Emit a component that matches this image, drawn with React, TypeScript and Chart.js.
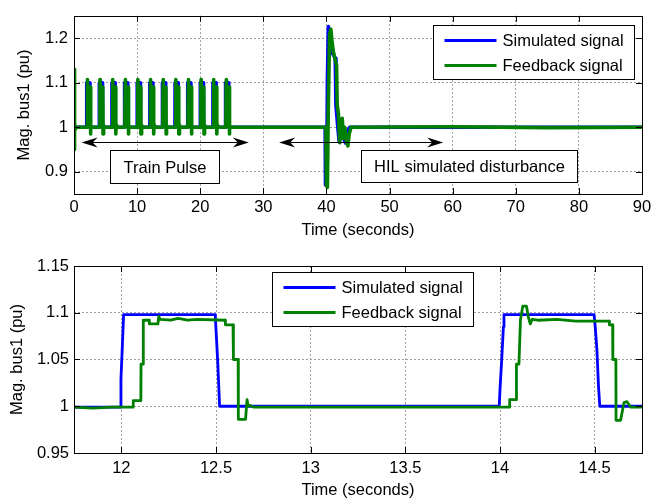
import React, { useEffect, useRef } from "react";
import { Chart, registerables } from "chart.js";
Chart.register(...registerables);

const FONT_FAMILY = "'Liberation Sans', Arial, Helvetica, sans-serif";
const FONT_SIZE = 16.5;
const BLUE = "#0000ff";
const GREEN = "#008000";

// ---------- Top plot data (time s, magnitude pu) ----------
const xTicksTop = [0, 10, 20, 30, 40, 50, 60, 70, 80, 90];
const xLabelsTop = ["0", "10", "20", "30", "40", "50", "60", "70", "80", "90"];
const yTicksTop = [0.9, 1.0, 1.1, 1.2];
const yLabelsTop = ["0.9", "1", "1.1", "1.2"];

const simulatedTop: number[][] = [
  [0, 1], [2, 1], [2.02, 1.1], [2.5, 1.1], [2.52, 1],
  [4, 1], [4.02, 1.1], [4.5, 1.1], [4.52, 1],
  [6, 1], [6.02, 1.1], [6.5, 1.1], [6.52, 1],
  [8, 1], [8.02, 1.1], [8.5, 1.1], [8.52, 1],
  [10, 1], [10.02, 1.1], [10.5, 1.1], [10.52, 1],
  [12, 1], [12.02, 1.1], [12.5, 1.1], [12.52, 1],
  [14, 1], [14.02, 1.1], [14.5, 1.1], [14.52, 1],
  [16, 1], [16.02, 1.1], [16.5, 1.1], [16.52, 1],
  [18, 1], [18.02, 1.1], [18.5, 1.1], [18.52, 1],
  [20, 1], [20.02, 1.1], [20.5, 1.1], [20.52, 1],
  [22, 1], [22.02, 1.1], [22.5, 1.1], [22.52, 1],
  [24, 1], [24.02, 1.1], [24.5, 1.1], [24.52, 1],
  [39.8, 1], [39.85, 0.87], [40.05, 0.87], [40.15, 1.1], [40.3, 1.226], [40.5, 1.215],
  [40.8, 1.17], [41.2, 1.16], [41.4, 1.155], [41.5, 1.05], [41.8, 1.0], [42.0, 0.97],
  [42.3, 1.01], [42.6, 0.98], [43.0, 0.965], [43.3, 0.99], [43.7, 1.0], [90, 1],
];

const feedbackTop: number[][] = [
  [0, 1.13], [0.05, 0.95], [0.12, 1.01], [0.2, 0.995], [0.4, 1],
  [2.06, 1], [2.11, 1.093], [2.13, 1.107], [2.16, 1.09], [2.56, 1.09], [2.6, 0.985], [2.65, 0.985], [2.68, 1.005], [2.75, 1],
  [4.06, 1], [4.11, 1.093], [4.13, 1.107], [4.16, 1.09], [4.56, 1.09], [4.6, 0.985], [4.65, 0.985], [4.68, 1.005], [4.75, 1],
  [6.06, 1], [6.11, 1.093], [6.13, 1.107], [6.16, 1.09], [6.56, 1.09], [6.6, 0.985], [6.65, 0.985], [6.68, 1.005], [6.75, 1],
  [8.06, 1], [8.11, 1.093], [8.13, 1.107], [8.16, 1.09], [8.56, 1.09], [8.6, 0.985], [8.65, 0.985], [8.68, 1.005], [8.75, 1],
  [10.06, 1], [10.11, 1.093], [10.13, 1.107], [10.16, 1.09], [10.56, 1.09], [10.6, 0.985], [10.65, 0.985], [10.68, 1.005], [10.75, 1],
  [12.06, 1], [12.11, 1.093], [12.13, 1.107], [12.16, 1.09], [12.56, 1.09], [12.6, 0.985], [12.65, 0.985], [12.68, 1.005], [12.75, 1],
  [14.06, 1], [14.11, 1.093], [14.13, 1.107], [14.16, 1.09], [14.56, 1.09], [14.6, 0.985], [14.65, 0.985], [14.68, 1.005], [14.75, 1],
  [16.06, 1], [16.11, 1.093], [16.13, 1.107], [16.16, 1.09], [16.56, 1.09], [16.6, 0.985], [16.65, 0.985], [16.68, 1.005], [16.75, 1],
  [18.06, 1], [18.11, 1.093], [18.13, 1.107], [18.16, 1.09], [18.56, 1.09], [18.6, 0.985], [18.65, 0.985], [18.68, 1.005], [18.75, 1],
  [20.06, 1], [20.11, 1.093], [20.13, 1.107], [20.16, 1.09], [20.56, 1.09], [20.6, 0.985], [20.65, 0.985], [20.68, 1.005], [20.75, 1],
  [22.06, 1], [22.11, 1.093], [22.13, 1.107], [22.16, 1.09], [22.56, 1.09], [22.6, 0.985], [22.65, 0.985], [22.68, 1.005], [22.75, 1],
  [24.06, 1], [24.11, 1.093], [24.13, 1.107], [24.16, 1.09], [24.56, 1.09], [24.6, 0.985], [24.65, 0.985], [24.68, 1.005], [24.75, 1],
  [39.9, 1], [40.0, 0.87], [40.15, 0.865], [40.3, 1.05], [40.5, 1.21], [40.7, 1.22], [40.9, 1.19],
  [41.1, 1.17], [41.4, 1.15], [41.6, 1.14], [41.7, 1.05], [41.9, 1.03], [42.1, 0.965], [42.3, 0.99],
  [42.5, 1.02], [42.7, 0.975], [42.9, 1.0], [43.2, 0.965], [43.4, 0.958], [43.6, 0.985], [43.9, 1.0],
  [60, 1.001], [75, 0.999], [90, 1],
];

// ---------- Bottom plot data ----------
const xTicksBottom = [12, 12.5, 13, 13.5, 14, 14.5];
const xLabelsBottom = ["12", "12.5", "13", "13.5", "14", "14.5"];
const yTicksBottom = [0.95, 1.0, 1.05, 1.1, 1.15];
const yLabelsBottom = ["0.95", "1", "1.05", "1.1", "1.15"];

const simulatedBottom: number[][] = [
  [11.75, 0.999], [11.996, 0.999], [11.998, 1.029], [12.005, 1.063], [12.012, 1.098],
  [12.496, 1.098], [12.5, 1.082], [12.509, 1.048], [12.519, 1.0],
  [13.996, 1.0], [14.0, 1.018], [14.009, 1.05], [14.018, 1.085], [14.021, 1.098],
  [14.497, 1.098], [14.503, 1.085], [14.512, 1.06], [14.52, 1.022], [14.527, 1.0], [14.75, 1.0],
];

const feedbackBottom: number[][] = [
  [11.75, 0.999], [11.85, 0.998], [11.95, 0.999], [12.062, 0.999], [12.063, 1.006], [12.103, 1.006],
  [12.104, 1.045], [12.115, 1.045], [12.116, 1.092], [12.147, 1.092], [12.148, 1.088], [12.193, 1.088],
  [12.198, 1.096], [12.205, 1.093], [12.26, 1.092], [12.3, 1.094], [12.35, 1.092], [12.4, 1.093],
  [12.549, 1.092], [12.55, 1.087], [12.59, 1.087], [12.592, 1.05], [12.617, 1.05], [12.618, 0.986],
  [12.656, 0.986], [12.664, 1.007], [12.67, 1.0], [12.678, 1.001], [12.7, 0.999], [13.0, 0.999],
  [13.5, 0.999], [14.05, 0.999], [14.051, 1.007], [14.086, 1.007], [14.087, 1.045], [14.1, 1.045],
  [14.108, 1.092], [14.12, 1.107], [14.14, 1.107], [14.15, 1.095], [14.16, 1.088], [14.17, 1.093],
  [14.2, 1.092], [14.3, 1.093], [14.4, 1.091], [14.577, 1.091], [14.578, 1.087], [14.595, 1.087],
  [14.596, 1.05], [14.612, 1.05], [14.613, 0.985], [14.637, 0.985], [14.655, 1.004], [14.67, 1.005],
  [14.69, 0.999], [14.75, 0.999],
];

const seriesNames = ["Simulated signal", "Feedback signal"];

// ---------- Annotations in top plot (data coordinates) ----------
const arrowSpans = [[1.2, 27.7], [32.5, 58.5]];
const arrowLevel = 0.967;
const noteTexts = ["Train Pulse", "HIL simulated disturbance"];
const noteBoxes = [[5.77, 22.98, 0.949, 0.875], [45.4, 79.7, 0.949, 0.877]];

const font = { family: FONT_FAMILY, size: FONT_SIZE };
const fontStr = `${FONT_SIZE}px ${FONT_FAMILY}`;

function labelFor(values: number[], labels: string[], v: number) {
  const i = values.findIndex((t) => Math.abs(t - v) < 1e-6);
  return i >= 0 ? labels[i] : "";
}

function toXY(arr: number[][]) {
  return arr.map(([x, y]) => ({ x, y }));
}

function drawArrowHead(ctx: CanvasRenderingContext2D, tipX: number, y: number, dir: number) {
  const len = 16, half = 5, notch = 11;
  ctx.beginPath();
  ctx.moveTo(tipX, y);
  ctx.lineTo(tipX + dir * len, y - half);
  ctx.lineTo(tipX + dir * notch, y);
  ctx.lineTo(tipX + dir * len, y + half);
  ctx.closePath();
  ctx.fill();
}

function makeOverlay(legendOffset: { fromRight?: number; fromLeft?: number; top: number }, withNotes: boolean, lineW: number) {
  return {
    id: "overlay",
    afterDatasetsDraw(chart: any) {
      const { ctx, chartArea } = chart;
      const { left, right, top, bottom } = chartArea;
      const xs = chart.scales.x, ys = chart.scales.y;
      ctx.save();
      // inward tick marks
      ctx.strokeStyle = "#000";
      ctx.lineWidth = 1;
      ctx.beginPath();
      for (const t of xs.ticks) {
        const px = Math.round(xs.getPixelForValue(t.value)) + 0.5;
        if (px <= left + 1 || px >= right - 1) continue;
        ctx.moveTo(px, bottom); ctx.lineTo(px, bottom - 6);
        ctx.moveTo(px, top); ctx.lineTo(px, top + 6);
      }
      for (const t of ys.ticks) {
        const py = Math.round(ys.getPixelForValue(t.value)) + 0.5;
        if (py <= top + 1 || py >= bottom - 1) continue;
        ctx.moveTo(left, py); ctx.lineTo(left + 6, py);
        ctx.moveTo(right, py); ctx.lineTo(right - 6, py);
      }
      ctx.stroke();
      ctx.strokeRect(Math.round(left) + 0.5, Math.round(top) + 0.5, Math.round(right - left), Math.round(bottom - top));

      // annotations
      if (withNotes) {
        ctx.fillStyle = "#000";
        const ay = Math.round(ys.getPixelForValue(arrowLevel)) + 0.5;
        for (const [a, b] of arrowSpans) {
          const x1 = xs.getPixelForValue(a), x2 = xs.getPixelForValue(b);
          ctx.beginPath();
          ctx.moveTo(x1 + 8, ay); ctx.lineTo(x2 - 8, ay);
          ctx.stroke();
          drawArrowHead(ctx, x1, ay, 1);
          drawArrowHead(ctx, x2, ay, -1);
        }
        ctx.font = fontStr;
        ctx.textAlign = "center";
        ctx.textBaseline = "middle";
        noteBoxes.forEach(([x0, x1, y0, y1], i) => {
          const bx0 = Math.round(xs.getPixelForValue(x0)) + 0.5;
          const bx1 = Math.round(xs.getPixelForValue(x1)) + 0.5;
          const by0 = Math.round(ys.getPixelForValue(y0)) + 0.5;
          const by1 = Math.round(ys.getPixelForValue(y1)) + 0.5;
          ctx.fillStyle = "#fff";
          ctx.fillRect(bx0, by0, bx1 - bx0, by1 - by0);
          ctx.strokeRect(bx0, by0, bx1 - bx0, by1 - by0);
          ctx.fillStyle = "#000";
          ctx.fillText(noteTexts[i], (bx0 + bx1) / 2, (by0 + by1) / 2 + 1);
        });
      }

      // legend
      const w = 201, h = 54;
      const lx = Math.round(legendOffset.fromRight !== undefined ? right - legendOffset.fromRight - w : left + (legendOffset.fromLeft || 0)) + 0.5;
      const ly = Math.round(top + legendOffset.top) + 0.5;
      ctx.fillStyle = "#fff";
      ctx.fillRect(lx, ly, w, h);
      ctx.strokeStyle = "#000";
      ctx.lineWidth = 1;
      ctx.strokeRect(lx, ly, w, h);
      const colors = [BLUE, GREEN];
      ctx.font = fontStr;
      ctx.textAlign = "left";
      ctx.textBaseline = "middle";
      seriesNames.forEach((name, i) => {
        const ry = ly + 15 + i * 25;
        ctx.strokeStyle = colors[i];
        ctx.lineWidth = lineW;
        ctx.beginPath();
        ctx.moveTo(lx + 11, ry); ctx.lineTo(lx + 63, ry);
        ctx.stroke();
        ctx.fillStyle = "#000";
        ctx.fillText(name, lx + 69, ry + 1);
      });
      ctx.restore();
    },
  };
}

function buildConfig(opts: {
  sim: number[][]; fb: number[][];
  xMin: number; xMax: number; yMin: number; yMax: number;
  xTicks: number[]; xLabels: string[]; yTicks: number[]; yLabels: string[];
  padTop: number; xHeight: number; xTickPad: number; xTitlePad: number; yTitlePad: number; yTickPad: number;
  lineW: number; overlay: any;
}): any {
  const gridCommon = { color: "#a0a0a0", lineWidth: 1, drawTicks: false };
  return {
    type: "line",
    data: {
      datasets: [
        { label: seriesNames[0], data: toXY(opts.sim), borderColor: BLUE, borderWidth: opts.lineW, pointRadius: 0, tension: 0, order: 2, borderJoinStyle: "round" },
        { label: seriesNames[1], data: toXY(opts.fb), borderColor: GREEN, borderWidth: opts.lineW, pointRadius: 0, tension: 0, order: 1, borderJoinStyle: "round" },
      ],
    },
    options: {
      responsive: false,
      animation: false,
      events: [],
      layout: { padding: { left: 0, right: 23, top: opts.padTop, bottom: 0 } },
      plugins: { legend: { display: false }, tooltip: { enabled: false } },
      scales: {
        x: {
          type: "linear",
          min: opts.xMin,
          max: opts.xMax,
          afterBuildTicks: (s: any) => { s.ticks = opts.xTicks.map((v) => ({ value: v })); },
          afterFit: (s: any) => { s.height = opts.xHeight; },
          ticks: {
            autoSkip: false, maxRotation: 0, padding: opts.xTickPad, color: "#000", font,
            callback: (v: number) => labelFor(opts.xTicks, opts.xLabels, v),
          },
          grid: gridCommon,
          border: { display: false, dash: [2, 2] },
          title: { display: true, text: "Time (seconds)", color: "#000", font, padding: { top: 0, bottom: opts.xTitlePad } },
        },
        y: {
          type: "linear",
          min: opts.yMin,
          max: opts.yMax,
          afterBuildTicks: (s: any) => { s.ticks = opts.yTicks.map((v) => ({ value: v })); },
          afterFit: (s: any) => { s.width = 74; },
          ticks: {
            autoSkip: false, padding: opts.yTickPad, color: "#000", font,
            callback: (v: number) => labelFor(opts.yTicks, opts.yLabels, v),
          },
          grid: gridCommon,
          border: { display: false, dash: [2, 2] },
          title: { display: true, text: "Mag. bus1 (pu)", color: "#000", font, padding: { top: opts.yTitlePad, bottom: 0 } },
        },
      },
    },
    plugins: [opts.overlay],
  };
}

export default function App() {
  const topRef = useRef<HTMLCanvasElement>(null);
  const botRef = useRef<HTMLCanvasElement>(null);

  useEffect(() => {
    const top = new Chart(topRef.current as HTMLCanvasElement, buildConfig({
      sim: simulatedTop, fb: feedbackTop,
      xMin: 0, xMax: 90, yMin: 0.85, yMax: 1.25,
      xTicks: xTicksTop, xLabels: xLabelsTop, yTicks: yTicksTop, yLabels: yLabelsTop,
      padTop: 7, xHeight: 56, xTickPad: 4, xTitlePad: 9.6, yTitlePad: 15, yTickPad: 6,
      lineW: 3.6, overlay: makeOverlay({ fromRight: 8, top: 9.5 }, true, 3),
    }));
    const bottom = new Chart(botRef.current as HTMLCanvasElement, buildConfig({
      sim: simulatedBottom, fb: feedbackBottom,
      xMin: 11.75, xMax: 14.75, yMin: 0.95, yMax: 1.15,
      xTicks: xTicksBottom, xLabels: xLabelsBottom, yTicks: yTicksBottom, yLabels: yLabelsBottom,
      padTop: 16, xHeight: 49, xTickPad: 6, xTitlePad: 1.3, yTitlePad: 7.6, yTickPad: 5,
      lineW: 2.8, overlay: makeOverlay({ fromLeft: 198, top: 5.7 }, false, 3),
    }));
    return () => { top.destroy(); bottom.destroy(); };
  }, []);

  return (
    <div style={{ position: "absolute", left: 0, top: 0, width: 665, height: 502, background: "#fff" }}>
      <canvas ref={topRef} width={665} height={250} style={{ position: "absolute", left: 0, top: 0, display: "block" }} />
      <canvas ref={botRef} width={665} height={252} style={{ position: "absolute", left: 0, top: 250, display: "block" }} />
    </div>
  );
}
